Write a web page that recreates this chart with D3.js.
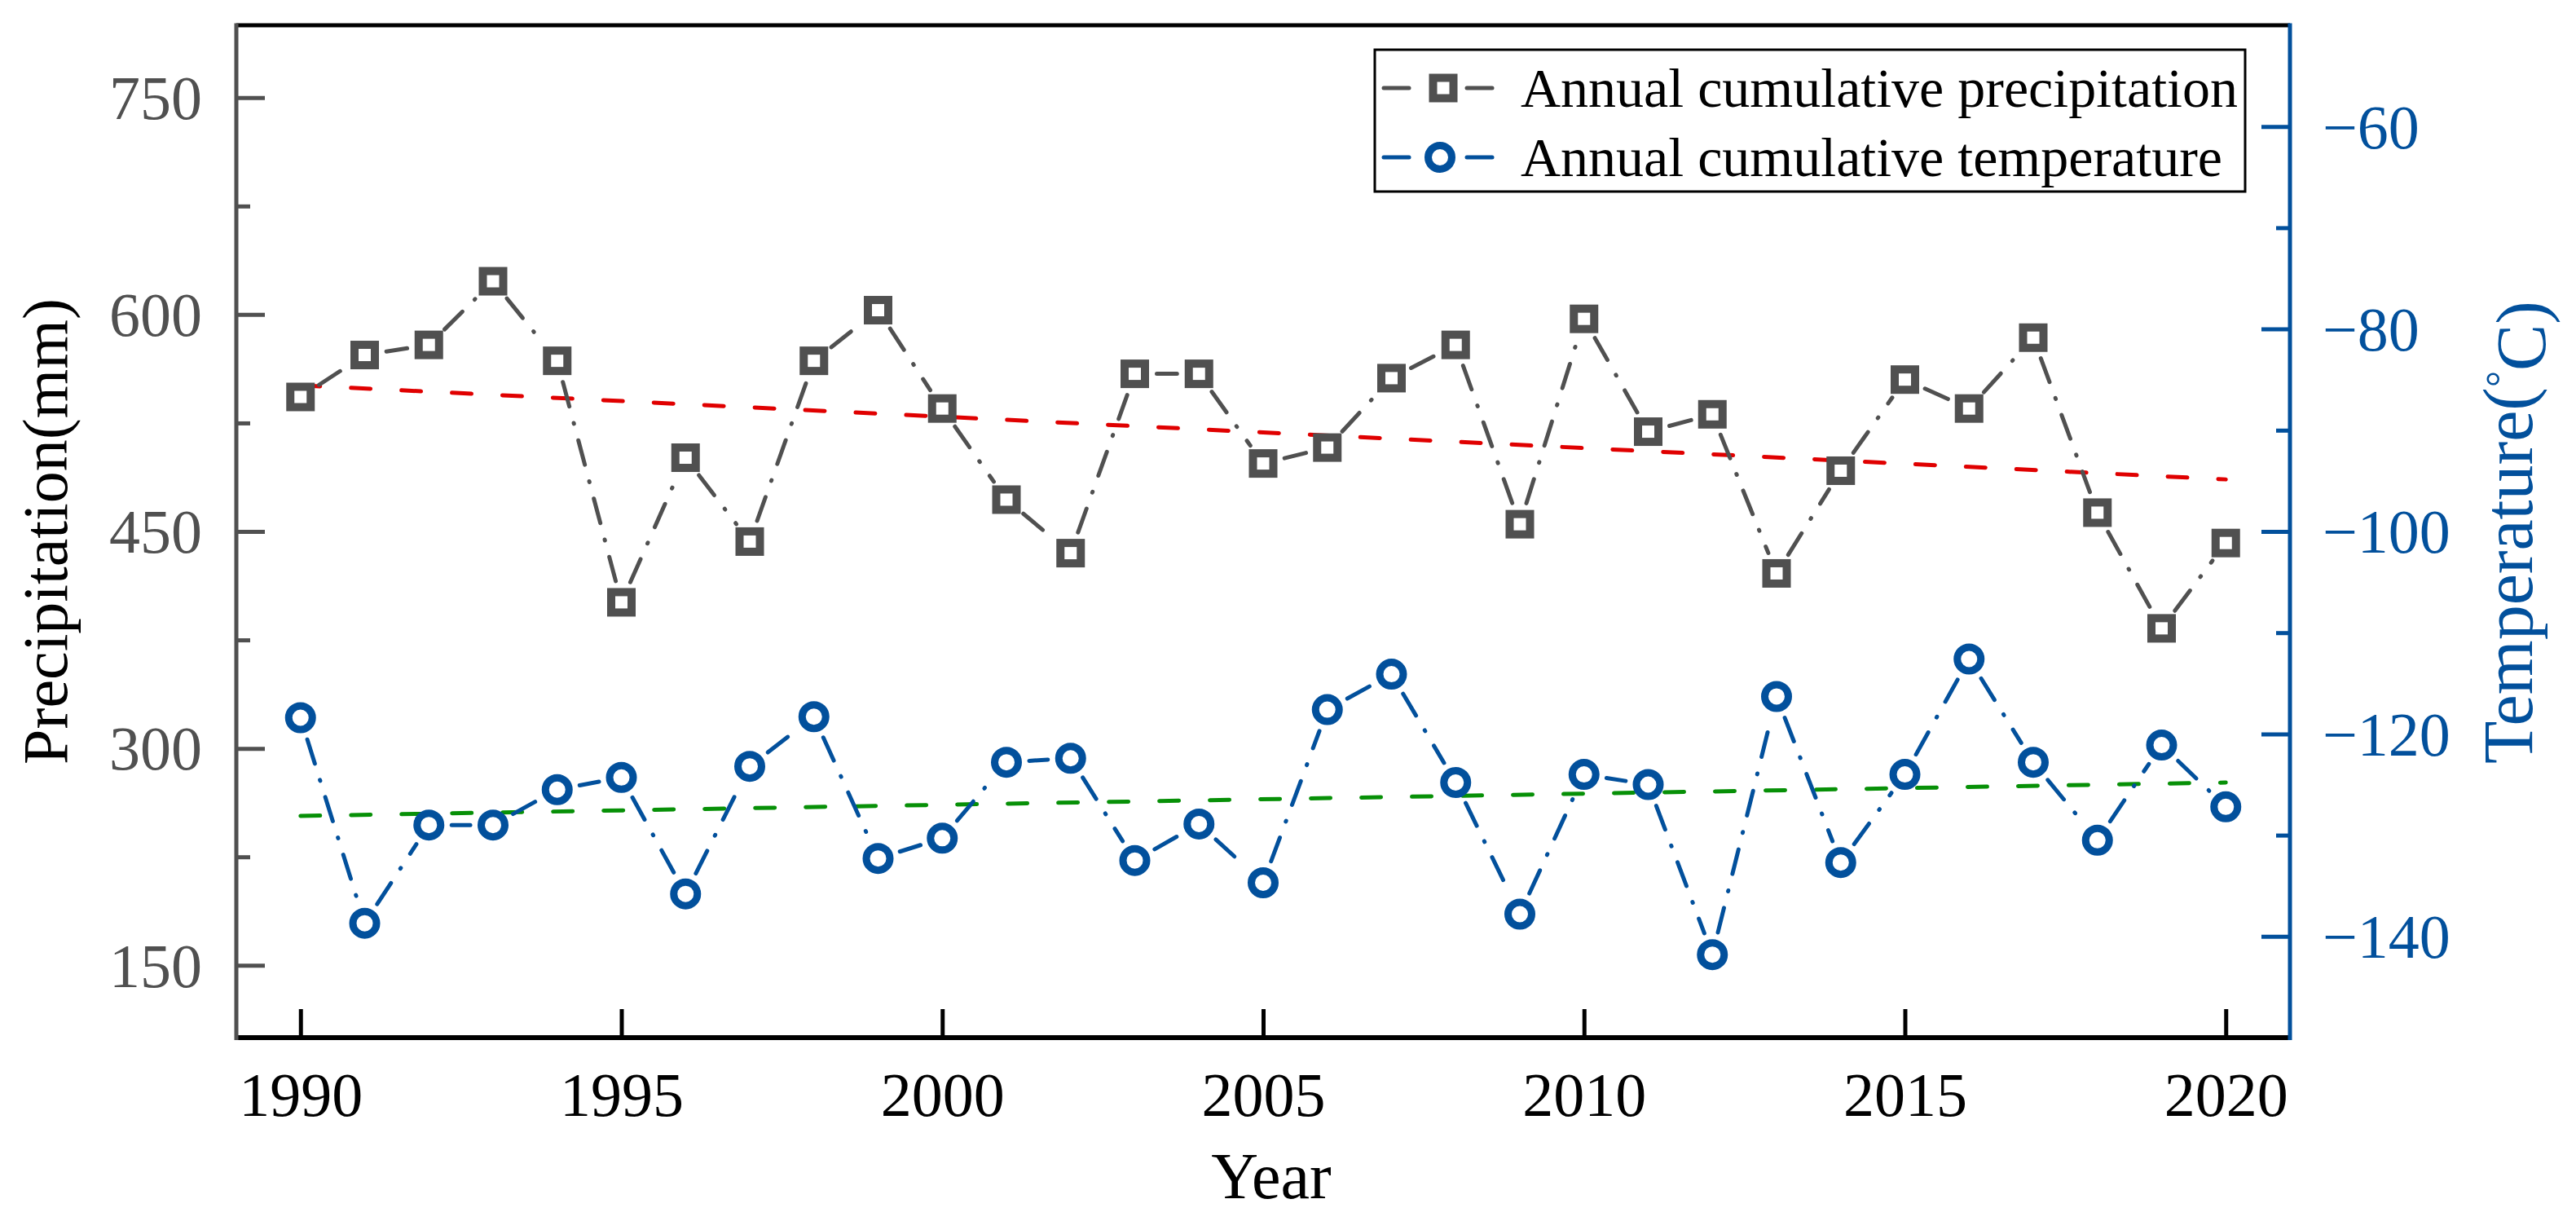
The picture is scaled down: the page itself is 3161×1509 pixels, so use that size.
<!DOCTYPE html>
<html>
<head>
<meta charset="utf-8">
<script src="https://cdn.jsdelivr.net/npm/d3@7"></script>
<style>
  body { margin: 0; background: #fff; }
  svg { display: block; font-family: 'Liberation Serif', 'Times New Roman', serif; }
  svg text { font-family: 'Liberation Serif', 'Times New Roman', serif; }
</style>
</head>
<body>
<div class="outer-container"></div>
<script>
const years = [1990, 1991, 1992, 1993, 1994, 1995, 1996, 1997, 1998, 1999,
               2000, 2001, 2002, 2003, 2004, 2005, 2006, 2007, 2008, 2009,
               2010, 2011, 2012, 2013, 2014, 2015, 2016, 2017, 2018, 2019, 2020]
const precipitation = [543, 572, 579, 623, 568, 401, 501, 443, 568, 603,
                       535, 472, 435, 559, 559, 497, 508, 556, 579, 455,
                       597, 519, 531, 421, 492, 555, 535, 584, 463, 383, 442]
const temperature = [-118.4, -138.7, -129.0, -129.0, -125.5, -124.3, -135.8, -123.2, -118.3, -132.3,
                     -130.3, -122.8, -122.4, -132.5, -128.9, -134.7, -117.6, -114.1, -124.8, -137.8,
                     -124.0, -125.0, -141.8, -116.3, -132.7, -124.0, -112.6, -122.8, -130.5, -121.1, -127.2]
const trendYears = [1990, 2020]
const precipTrend = [551, 486]
const tempTrend = [-128.1, -124.8]
const xTicks = [1990, 1995, 2000, 2005, 2010, 2015, 2020]
const leftTicks = [150, 300, 450, 600, 750]
const leftMinor = [225, 375, 525, 675]
const rightTicks = [-140, -120, -100, -80, -60]
const rightMinor = [-130, -110, -90, -70]
const legendLabels = ['Annual cumulative precipitation', 'Annual cumulative temperature']

const w = 3161
const h = 1509
const plotLeft = 290
const plotRight = 2810
const plotTop = 31
const plotBottom = 1273
const gray = '#505050'
const blue = '#02509c'
const serif = "'Liberation Serif', 'Times New Roman', serif"

const xScale = d3.scaleLinear().domain([1989, 2021]).range([plotLeft, plotRight])
const yLeft = d3.scaleLinear().domain([100, 800]).range([plotBottom, plotTop])
const yRight = d3.scaleLinear().domain([-150, -50]).range([plotBottom, plotTop])

const svg = d3.select('.outer-container')
              .append('svg')
              .attr('width', w)
              .attr('height', h)

// axes (inward ticks)
const xAxis = d3.axisBottom(xScale).tickValues(xTicks).tickFormat(d3.format('d'))
                .tickSizeInner(-35).tickSizeOuter(0).tickPadding(42)
const gx = svg.append('g')
              .attr('transform', 'translate(0,' + plotBottom + ')')
              .call(xAxis)
              .attr('font-family', serif)
gx.selectAll('line').attr('stroke', '#000').attr('stroke-width', 5)
gx.selectAll('text').attr('fill', '#000').style('font-size', '76px')

const gl = svg.append('g')
              .attr('transform', 'translate(' + plotLeft + ',0)')
              .call(d3.axisLeft(yLeft).tickValues(leftTicks).tickFormat(d3.format('d'))
                      .tickSizeInner(-35).tickSizeOuter(0).tickPadding(42))
              .attr('font-family', serif)
gl.selectAll('line').attr('stroke', gray).attr('stroke-width', 5)
gl.selectAll('text').attr('fill', gray).attr('dy', '0.34em').style('font-size', '76px')
svg.append('g')
   .attr('transform', 'translate(' + plotLeft + ',0)')
   .call(d3.axisLeft(yLeft).tickValues(leftMinor).tickFormat('').tickSizeInner(-17).tickSizeOuter(0))
   .selectAll('line').attr('stroke', gray).attr('stroke-width', 5)

const gr = svg.append('g')
              .attr('transform', 'translate(' + plotRight + ',0)')
              .call(d3.axisRight(yRight).tickValues(rightTicks).tickFormat(d3.format('d'))
                      .tickSizeInner(-35).tickSizeOuter(0).tickPadding(40))
              .attr('font-family', serif)
gr.selectAll('line').attr('stroke', blue).attr('stroke-width', 5)
gr.selectAll('text').attr('fill', blue).attr('dy', '0.34em').style('font-size', '76px')
svg.append('g')
   .attr('transform', 'translate(' + plotRight + ',0)')
   .call(d3.axisRight(yRight).tickValues(rightMinor).tickFormat('').tickSizeInner(-17).tickSizeOuter(0))
   .selectAll('line').attr('stroke', blue).attr('stroke-width', 5)

svg.selectAll('.domain').remove()

// frame
svg.append('line').attr('x1', plotLeft).attr('x2', plotRight).attr('y1', plotTop).attr('y2', plotTop)
   .attr('stroke', '#000').attr('stroke-width', 5)
svg.append('line').attr('x1', plotLeft).attr('x2', plotRight).attr('y1', plotBottom).attr('y2', plotBottom)
   .attr('stroke', '#000').attr('stroke-width', 6)
svg.append('line').attr('x1', plotLeft).attr('x2', plotLeft).attr('y1', plotTop - 2.5).attr('y2', plotBottom + 3)
   .attr('stroke', gray).attr('stroke-width', 5)
svg.append('line').attr('x1', plotRight).attr('x2', plotRight).attr('y1', plotTop - 2.5).attr('y2', plotBottom + 3)
   .attr('stroke', blue).attr('stroke-width', 5)

// trend lines
const trendLine = (vals, scale, color) => {
  svg.append('line')
     .attr('x1', xScale(trendYears[0])).attr('y1', scale(vals[0]))
     .attr('x2', xScale(trendYears[1])).attr('y2', scale(vals[1]))
     .attr('stroke', color).attr('stroke-width', 5)
     .attr('stroke-linecap', 'round')
     .attr('stroke-dasharray', '24,38')
}
trendLine(precipTrend, yLeft, '#e00000')
trendLine(tempTrend, yRight, '#079007')

// dash-dot series, segments trimmed around the symbols
const drawSeries = (vals, scale, color, gap) => {
  const pts = years.map((yr, i) => [xScale(yr), scale(vals[i])])
  const segs = d3.pairs(pts).map(([a, b]) => {
    const dx = b[0] - a[0]
    const dy = b[1] - a[1]
    const len = Math.hypot(dx, dy)
    const ux = dx / len
    const uy = dy / len
    return [a[0] + ux * gap, a[1] + uy * gap, b[0] - ux * gap, b[1] - uy * gap]
  }).filter(s => (s[2] - s[0]) > 0)

  svg.append('g')
     .selectAll('line')
     .data(segs)
     .enter()
     .append('line')
     .attr('x1', d => d[0]).attr('y1', d => d[1])
     .attr('x2', d => d[2]).attr('y2', d => d[3])
     .attr('stroke', color)
     .attr('stroke-width', 5)
     .attr('stroke-linecap', 'round')
     .attr('stroke-dasharray', '31,21,1,21')
  return pts
}

const pPts = drawSeries(precipitation, yLeft, gray, 27)
const tPts = drawSeries(temperature, yRight, blue, 28)

svg.append('g')
   .selectAll('rect')
   .data(pPts)
   .enter()
   .append('rect')
   .attr('x', d => d[0] - 12.5)
   .attr('y', d => d[1] - 12.5)
   .attr('width', 25)
   .attr('height', 25)
   .attr('fill', '#fff')
   .attr('stroke', gray)
   .attr('stroke-width', 10)

svg.append('g')
   .selectAll('circle')
   .data(tPts)
   .enter()
   .append('circle')
   .attr('cx', d => d[0])
   .attr('cy', d => d[1])
   .attr('r', 14.5)
   .attr('fill', '#fff')
   .attr('stroke', blue)
   .attr('stroke-width', 9)

// legend
const legend = svg.append('g')
legend.append('rect')
      .attr('x', 1687).attr('y', 61).attr('width', 1068).attr('height', 174)
      .attr('fill', '#fff').attr('stroke', '#000').attr('stroke-width', 3)
legendLabels.forEach((label, i) => {
  const cy = 108 + i * 85
  const color = i === 0 ? gray : blue
  legend.append('line').attr('x1', 1698).attr('x2', 1729).attr('y1', cy).attr('y2', cy)
        .attr('stroke', color).attr('stroke-width', 5).attr('stroke-linecap', 'round')
  legend.append('line').attr('x1', 1800).attr('x2', 1831).attr('y1', cy).attr('y2', cy)
        .attr('stroke', color).attr('stroke-width', 5).attr('stroke-linecap', 'round')
  if (i === 0) {
    legend.append('rect').attr('x', 1771 - 12.5).attr('y', cy - 12.5).attr('width', 25).attr('height', 25)
          .attr('fill', '#fff').attr('stroke', gray).attr('stroke-width', 10)
  } else {
    legend.append('circle').attr('cx', 1767).attr('cy', cy).attr('r', 14.5)
          .attr('fill', '#fff').attr('stroke', blue).attr('stroke-width', 9)
  }
  legend.append('text')
        .attr('x', 1866).attr('y', cy + 23)
        .style('font-size', '68px')
        .text(label)
})

// axis titles
svg.append('text')
   .attr('x', 1560).attr('y', 1470)
   .attr('text-anchor', 'middle')
   .style('font-size', '80px')
   .text('Year')

svg.append('text')
   .attr('transform', 'translate(82,652) rotate(-90)')
   .attr('text-anchor', 'middle')
   .style('font-size', '78px')
   .text('Precipitation(mm)')

const rt = svg.append('text')
              .attr('transform', 'translate(3107,653) rotate(-90)')
              .attr('text-anchor', 'middle')
              .attr('fill', blue)
              .style('font-size', '86px')
rt.append('tspan').text('Temperature(')
rt.append('tspan').attr('dy', '-0.45em').style('font-size', '50px').text('°')
rt.append('tspan').attr('dy', '0.45em').text('C)')
</script>
</body>
</html>
